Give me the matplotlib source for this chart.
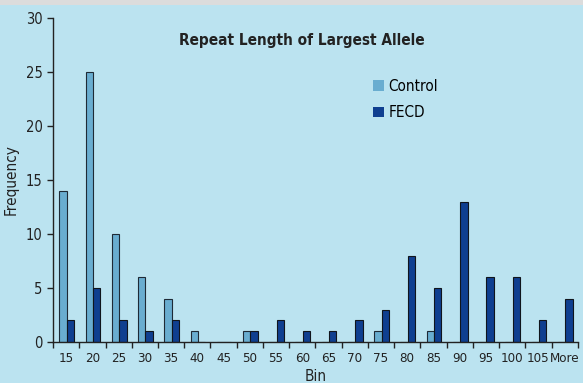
import matplotlib.pyplot as plt
import numpy as np
from matplotlib.patches import Rectangle, Patch

plt.rcParams['font.family'] = ['DejaVu Sans']
plt.rcParams['font.stretch'] = 'condensed'

# Histogram bins and counts
bins = ['15', '20', '25', '30', '35', '40', '45', '50', '55', '60',
        '65', '70', '75', '80', '85', '90', '95', '100', '105', 'More']
control = [14, 25, 10, 6, 4, 1, 0, 1, 0, 0, 0, 0, 1, 0, 1, 0, 0, 0, 0, 0]
fecd = [2, 5, 2, 1, 2, 0, 0, 1, 2, 1, 1, 2, 3, 8, 5, 13, 6, 6, 2, 4]

bg = '#bbe3f0'
c_ctrl = '#69add0'
c_fecd = '#0f3f90'

fig = plt.figure(figsize=(5.83, 3.83), dpi=100, facecolor=bg)
# grey strip along the top edge
fig.patches.append(Rectangle((0, 0.988), 1, 0.012, transform=fig.transFigure,
                             facecolor='#dcdcdc', edgecolor='none'))

ax = fig.add_axes([0.091, 0.107, 0.900, 0.846])
ax.set_facecolor(bg)

x = np.arange(len(bins))
w = 0.28
ax.bar(x - w / 2 + 0.02, control, width=w, color=c_ctrl, edgecolor='#1e2a36',
       linewidth=0.8)
ax.bar(x + w / 2 + 0.02, fecd, width=w, color=c_fecd, edgecolor='#10151c',
       linewidth=0.8)

ax.set_xlim(-0.5, len(bins) - 0.5)
ax.set_ylim(0, 30)
ax.set_yticks([0, 5, 10, 15, 20, 25, 30])
ax.set_xticks(x)
ax.set_xticklabels(bins)
ax.set_xticks(np.arange(len(bins) + 1) - 0.5, minor=True)
ax.tick_params(axis='x', which='major', length=0, pad=7, labelsize=9.5, colors='#222222')
ax.tick_params(axis='x', which='minor', length=4, width=1, color='#222222')
ax.tick_params(axis='y', length=4, width=1, labelsize=10.5, colors='#222222')

for s in ['top', 'right']:
    ax.spines[s].set_visible(False)
for s in ['left', 'bottom']:
    ax.spines[s].set_color('#222222')
    ax.spines[s].set_linewidth(1)

ax.set_xlabel('Bin', fontsize=11, color='#222222', labelpad=3)
ax.set_ylabel('Frequency', fontsize=11, color='#222222', labelpad=5)
ax.set_title('Repeat Length of Largest Allele', fontsize=11, fontweight='bold',
             color='#222222', x=0.475, y=0.89)

handles = [Patch(facecolor=c_ctrl, edgecolor='none', label='Control'),
           Patch(facecolor=c_fecd, edgecolor='none', label='FECD')]
ax.legend(handles=handles, loc='upper left', bbox_to_anchor=(0.617, 0.83),
          bbox_transform=fig.transFigure, frameon=False, fontsize=11,
          handlelength=0.7, handleheight=0.7, handletextpad=0.3, labelspacing=0.75)

fig.savefig('out.png', dpi=100, facecolor=bg)
